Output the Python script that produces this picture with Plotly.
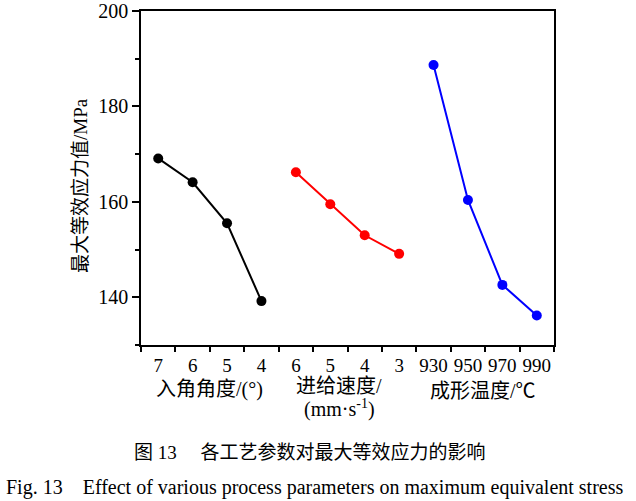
import plotly.graph_objects as go

# ---- data ----
angle_labels = ["7", "6", "5", "4"]
angle_stress = [169.1, 164.1, 155.5, 139.2]

feed_labels = ["6", "5", "4", "3"]
feed_stress = [166.2, 159.5, 153.0, 149.1]

temp_labels = ["930", "950", "970", "990"]
temp_stress = [188.7, 160.4, 142.6, 136.2]

tick_labels = angle_labels + feed_labels + temp_labels
group_titles = ["入角角度/(°)", "进给速度/", "(mm·s<sup>-1</sup>)", "成形温度/℃"]

W, H = 636, 501
L, R, T, B = 141, 82, 11, 156
PW, PH = W - L - R, H - T - B

def px(x):
    return (x - L) / PW

def py(y):
    return (H - B - y) / PH

FONT = "Liberation Serif, Times New Roman, Noto Sans CJK SC"

fig = go.Figure()
series = [
    (angle_stress, "#000000", 0),
    (feed_stress, "#ff0000", 4),
    (temp_stress, "#0000ff", 8),
]
for vals, col, off in series:
    fig.add_trace(go.Scatter(
        x=[off + i for i in range(len(vals))],
        y=vals,
        mode="lines+markers",
        line=dict(color=col, width=2),
        marker=dict(color=col, size=10),
        showlegend=False,
    ))

annotations = []
# group labels under the x axis
group_pos = [(209, 390), (339, 386), (339, 408), (483, 391)]
for txt, (x, y) in zip(group_titles, group_pos):
    annotations.append(dict(text=txt, x=px(x), y=py(y), xref="paper", yref="paper",
                            showarrow=False, xanchor="center", yanchor="middle",
                            font=dict(family=FONT, size=20, color="black")))
# y-axis title
annotations.append(dict(text="最大等效应力值/MPa", x=px(80), y=py(186), xref="paper", yref="paper",
                        showarrow=False, textangle=-90, xanchor="center", yanchor="middle",
                        font=dict(family=FONT, size=19, color="black")))
# captions
annotations.append(dict(text="图 13\u3000 各工艺参数对最大等效应力的影响", x=px(310), y=py(452),
                        xref="paper", yref="paper", showarrow=False, xanchor="center", yanchor="middle",
                        font=dict(family=FONT, size=19, color="black")))
annotations.append(dict(text="Fig. 13\u2003Effect of various process parameters on maximum equivalent stress",
                        x=px(314), y=py(488), xref="paper", yref="paper", showarrow=False,
                        xanchor="center", yanchor="middle",
                        font=dict(family=FONT, size=20, color="black")))

fig.update_layout(
    width=W, height=H,
    margin=dict(l=L, r=R, t=T, b=B, autoexpand=False),
    paper_bgcolor="white", plot_bgcolor="white",
    font=dict(family=FONT, color="black"),
    annotations=annotations,
    xaxis=dict(
        range=[-0.5, 11.5],
        automargin=False,
        tickmode="array",
        tickvals=list(range(len(tick_labels))),
        ticktext=tick_labels,
        ticks="",
        ticklabelstandoff=2,
        tickfont=dict(family=FONT, size=19, color="black"),
        showgrid=False, zeroline=False,
        showline=True, linecolor="black", linewidth=1.5, mirror=True,
        minor=dict(tickmode="array", tickvals=[i - 0.5 for i in range(13)],
                   ticks="outside", ticklen=5, tickwidth=1.5, tickcolor="black", showgrid=False),
    ),
    yaxis=dict(
        range=[130, 200],
        automargin=False,
        tickmode="array",
        tickvals=[140, 160, 180, 200],
        ticks="outside", ticklen=7, tickwidth=1.5, tickcolor="black",
        tickfont=dict(family=FONT, size=20, color="black"),
        showgrid=False, zeroline=False,
        showline=True, linecolor="black", linewidth=1.5, mirror=True,
        minor=dict(tickmode="array", tickvals=[130, 150, 170, 190],
                   ticks="outside", ticklen=4, tickwidth=1.5, tickcolor="black", showgrid=False),
    ),
)

fig.write_html("out.html")
